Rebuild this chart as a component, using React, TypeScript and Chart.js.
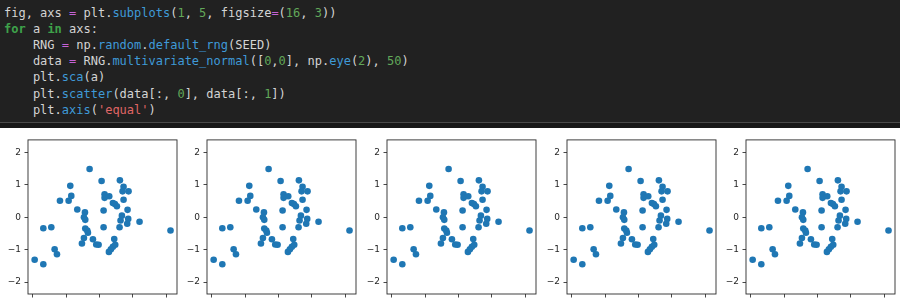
import React, { useEffect, useRef } from "react";
import { Chart, registerables } from "chart.js";

Chart.register(...registerables);

// Sample values (same data in every panel)
const xValues = [
  -1.95, -1.69, -1.69, -1.45, -1.35, -1.28, -1.19, -0.93, -0.85, -0.88,
  -0.67, -0.30, -0.44, -0.47, -0.43, -0.43, -0.37, -0.35, -0.47, -0.53,
  -0.20, -0.10, -0.03, 0.06, 0.12, 0.12, 0.15, 0.15, 0.29, 0.40,
  0.46, 0.52, 0.28, 0.34, 0.40, 0.47, 0.44, 0.61, 0.72, 0.69,
  0.87, 0.72, 0.84, 0.67, 0.63, 0.60, 0.86, 0.83, 1.20, 2.13,
];
const yValues = [
  -1.31, -1.45, -0.34, -0.31, -0.99, -1.14, 0.51, 0.51, 0.66, 0.97,
  0.24, 1.49, 0.15, 0.0, -0.08, -0.35, -0.41, -0.48, -0.64, -0.81,
  -0.68, -0.84, -0.85, 1.12, 0.21, -0.31, 0.71, 0.60, 0.65, 0.44,
  0.41, 0.34, -1.07, -0.99, -0.91, -0.85, -0.67, 1.14, 0.94, 0.80,
  0.80, 0.54, 0.23, 0.05, -0.10, -0.31, -0.05, -0.20, -0.14, -0.41,
];
const xTicks = [-2, -1, 0, 1, 2];
const yTicks = [-2, -1, 0, 1, 2];
const xLimits = [-2.15, 2.325];
const yLimits = [-2.37, 2.39];
const panelCount = 5;

type Tok = [string, string?];
const C = {
  txt: "#d4d4d4",
  op: "#c462d6",
  fn: "#3f9ad8",
  num: "#62a85a",
  kw: "#3ea24a",
  str: "#e06666",
};
const codeLines: Tok[][] = [
  [["fig, axs "], ["=", C.op], [" plt."], ["subplots", C.fn], ["("], ["1", C.num], [", "], ["5", C.num], [", figsize"], ["=", C.op], ["("], ["16", C.num], [", "], ["3", C.num], ["))"]],
  [["for", C.kw + "|b"], [" a "], ["in", C.kw + "|b"], [" axs:"]],
  [["    RNG "], ["=", C.op], [" np."], ["random", C.fn], ["."], ["default_rng", C.fn], ["(SEED)"]],
  [["    data "], ["=", C.op], [" RNG."], ["multivariate_normal", C.fn], ["(["], ["0", C.num], [","], ["0", C.num], ["], np."], ["eye", C.fn], ["("], ["2", C.num], ["), "], ["50", C.num], [")"]],
  [["    plt."], ["sca", C.fn], ["(a)"]],
  [["    plt."], ["scatter", C.fn], ["(data[:, "], ["0", C.num], ["], data[:, "], ["1", C.num], ["])"]],
  [["    plt."], ["axis", C.fn], ["("], ["'equal'", C.str], [")"]],
];

const PLOT_W = 149;
const PLOT_H = 157;
const PLOT_TOP = 137;
const GUTTER_L = 28;
const GUTTER_B = 24;
const PAD_TOP = 6;
const PAD_RIGHT = 4;

const fmt = (v: number | string) => String(v).replace("-", "\u2212");

const framePlugin = {
  id: "frame",
  afterDraw(chart: any) {
    const { left, top, right, bottom } = chart.chartArea;
    const ctx = chart.ctx;
    ctx.save();
    ctx.strokeStyle = "#2a2a2a";
    ctx.lineWidth = 0.9;
    ctx.strokeRect(left, top, right - left, bottom - top);
    ctx.restore();
  },
};

function Panel({ left }: { left: number }) {
  const ref = useRef<HTMLCanvasElement>(null);
  useEffect(() => {
    if (!ref.current) return;
    const font = { family: "DejaVu Sans", size: 9 };
    const chart = new Chart(ref.current, {
      type: "scatter",
      data: {
        datasets: [
          {
            data: xValues.map((x, i) => ({ x, y: yValues[i] })),
            backgroundColor: "#1f77b4",
            borderWidth: 0,
            pointRadius: 3.3,
            pointHoverRadius: 3.3,
          },
        ],
      },
      options: {
        animation: false,
        responsive: false,
        events: [],
        layout: { padding: { top: PAD_TOP, right: PAD_RIGHT, left: 0, bottom: 0 } },
        plugins: { legend: { display: false }, tooltip: { enabled: false } },
        scales: {
          x: {
            type: "linear",
            min: xLimits[0],
            max: xLimits[1],
            afterBuildTicks: (s: any) => {
              s.ticks = xTicks.map((v) => ({ value: v }));
            },
            ticks: { font, color: "#262626", padding: 3.5, maxRotation: 0, callback: fmt, includeBounds: false },
            grid: { drawOnChartArea: false, drawTicks: true, tickLength: 3.5, color: "#333", lineWidth: 0.9 },
            border: { display: false },
            afterFit: (s: any) => {
              s.height = GUTTER_B;
            },
          },
          y: {
            type: "linear",
            min: yLimits[0],
            max: yLimits[1],
            afterBuildTicks: (s: any) => {
              s.ticks = yTicks.map((v) => ({ value: v }));
            },
            ticks: { font, color: "#262626", padding: 3.5, callback: fmt, includeBounds: false },
            grid: { drawOnChartArea: false, drawTicks: true, tickLength: 3.5, color: "#333", lineWidth: 0.9 },
            border: { display: false },
            afterFit: (s: any) => {
              s.width = GUTTER_L;
            },
          },
        },
      } as any,
      plugins: [framePlugin],
    });
    return () => chart.destroy();
  }, []);
  const w = GUTTER_L + PLOT_W + PAD_RIGHT;
  const h = PAD_TOP + PLOT_H + GUTTER_B;
  return (
    <canvas
      ref={ref}
      width={w}
      height={h}
      style={{ position: "absolute", left: left - GUTTER_L, top: PLOT_TOP - PAD_TOP, width: w, height: h }}
    />
  );
}

export default function App() {
  const lefts = Array.from({ length: panelCount }, (_, i) => Math.round(27.7 + i * 179.6));
  return (
    <div
      style={{
        position: "fixed",
        left: 0,
        top: 0,
        width: 900,
        height: 300,
        overflow: "hidden",
        background: "#ffffff",
      }}
    >
      <div style={{ position: "absolute", left: 0, top: 0, width: 900, height: 122, background: "#212121" }}>
        <pre
          style={{
            position: "absolute",
            left: 4,
            top: 4.6,
            margin: 0,
            fontFamily: "'DejaVu Sans Mono', monospace",
            fontSize: 12,
            lineHeight: "16.2px",
            color: C.txt,
            whiteSpace: "pre",
          }}
        >
          {codeLines.map((line, li) => (
            <div key={li}>
              {line.map(([t, c], ti) => {
                const bold = c ? c.endsWith("|b") : false;
                const color = c ? c.replace("|b", "") : C.txt;
                return (
                  <span key={ti} style={{ color, fontWeight: bold ? "bold" : "normal" }}>
                    {t}
                  </span>
                );
              })}
            </div>
          ))}
        </pre>
      </div>
      <div style={{ position: "absolute", left: 0, top: 122, width: 900, height: 1, background: "#4a4a4a" }} />
      <div style={{ position: "absolute", left: 0, top: 123, width: 900, height: 5, background: "#181818" }} />
      {lefts.map((l, i) => (
        <Panel key={i} left={l} />
      ))}
    </div>
  );
}
